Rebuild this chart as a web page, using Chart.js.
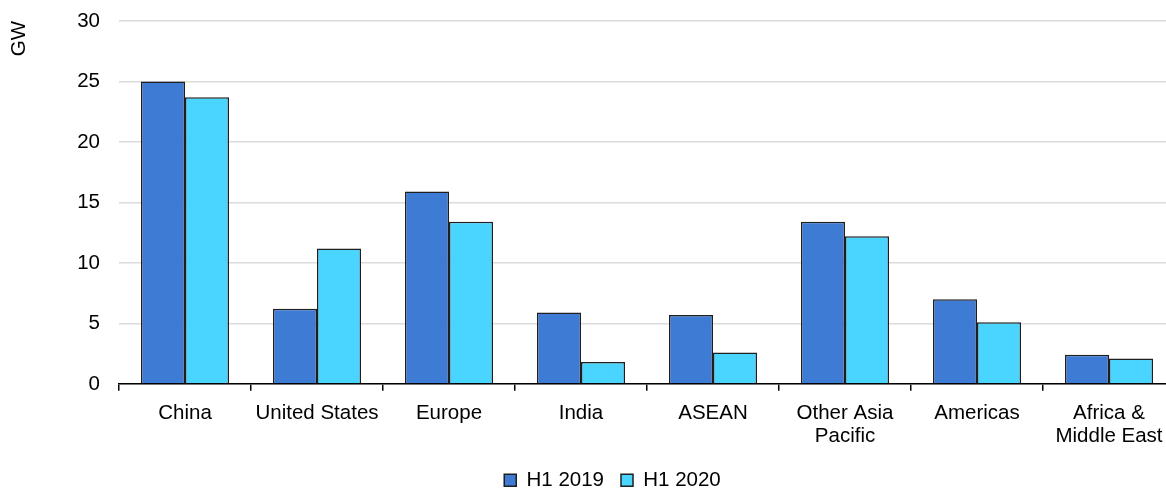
<!DOCTYPE html>
<html>
<head>
<meta charset="utf-8">
<script src="https://cdn.jsdelivr.net/npm/chart.js@4/dist/chart.umd.min.js"></script>
<style>
  html, body { margin: 0; padding: 0; background: #fff; overflow: hidden; }
  #wrap { width: 1166px; height: 488px; overflow: hidden; }
</style>
</head>
<body>
<div id="wrap"><canvas id="chart" width="1180" height="488"></canvas></div>
<script>
// ----------------------------
// Data
// ----------------------------
const regions = ['China', 'United States', 'Europe', 'India', 'ASEAN',
  ['Other Asia', 'Pacific'], 'Americas', ['Africa &', 'Middle East']];
const seriesNames = ['H1 2019', 'H1 2020'];
const h1_2019 = [25.0, 6.2, 15.9, 5.9, 5.7, 13.4, 7.0, 2.4];
const h1_2020 = [23.7, 11.2, 13.4, 1.8, 2.6, 12.2, 5.1, 2.1];
const yTicks = [0, 5, 10, 15, 20, 25, 30];

// ----------------------------
// Style
// ----------------------------
const FONT = { family: '"Liberation Sans", Arial, sans-serif', size: 20.5 };
const COLORS = { dark: '#3d7bd5', light: '#49d5ff', edge: '#1f1f1f', grid: '#dcdcdc' };

// moves the legend block to where the original sits
const legendShift = {
  id: 'legendShift',
  afterLayout(chart) {
    const lg = chart.legend;
    if (!lg) return;
    lg.left += 25; lg.right += 25;
    lg.top -= 6;
    lg.bottom = chart.height;
  }
};

const chart = new Chart(document.getElementById('chart').getContext('2d'), {
  type: 'bar',
  data: {
    labels: regions,
    datasets: [
      { label: seriesNames[0], data: h1_2019, backgroundColor: COLORS.dark,
        borderColor: COLORS.edge, borderWidth: 1.5 },
      { label: seriesNames[1], data: h1_2020, backgroundColor: COLORS.light,
        borderColor: COLORS.edge, borderWidth: 1.5 }
    ]
  },
  options: {
    responsive: false,
    animation: false,
    devicePixelRatio: 1,
    datasets: { bar: { categoryPercentage: 0.667, barPercentage: 1 } },
    layout: { padding: { top: 21, right: 5, bottom: 0, left: 0 } },
    scales: {
      x: {
        offset: true,
        grid: { display: true, offset: true, drawOnChartArea: false, drawTicks: true,
          tickLength: 7, color: '#000', lineWidth: 1.5 },
        border: { display: true, color: '#000', width: 1.5 },
        ticks: { font: { ...FONT, lineHeight: 1.15 }, color: '#000', padding: 10.5,
          maxRotation: 0, autoSkip: false }
      },
      y: {
        min: yTicks[0],
        max: yTicks[yTicks.length - 1],
        afterFit: (scale) => { scale.width = 119; },
        afterBuildTicks: (scale) => { scale.ticks = yTicks.map(v => ({ value: v })); },
        // invisible tick marks keep the labels away from the plot
        grid: { color: COLORS.grid, lineWidth: 1.5, drawTicks: true,
          tickLength: 19, tickColor: 'rgba(0,0,0,0)' },
        border: { display: false },
        ticks: { font: FONT, color: '#000', padding: 0 },
        title: { display: true, text: 'GW', align: 'end', color: '#000',
          font: FONT, padding: { top: 7, bottom: 0 } }
      }
    },
    plugins: {
      legend: {
        position: 'bottom',
        maxHeight: 29,
        labels: { font: FONT, color: '#000', boxWidth: 12, boxHeight: 12, padding: 17 }
      },
      tooltip: { enabled: false }
    }
  },
  plugins: [legendShift]
});
</script>
</body>
</html>
